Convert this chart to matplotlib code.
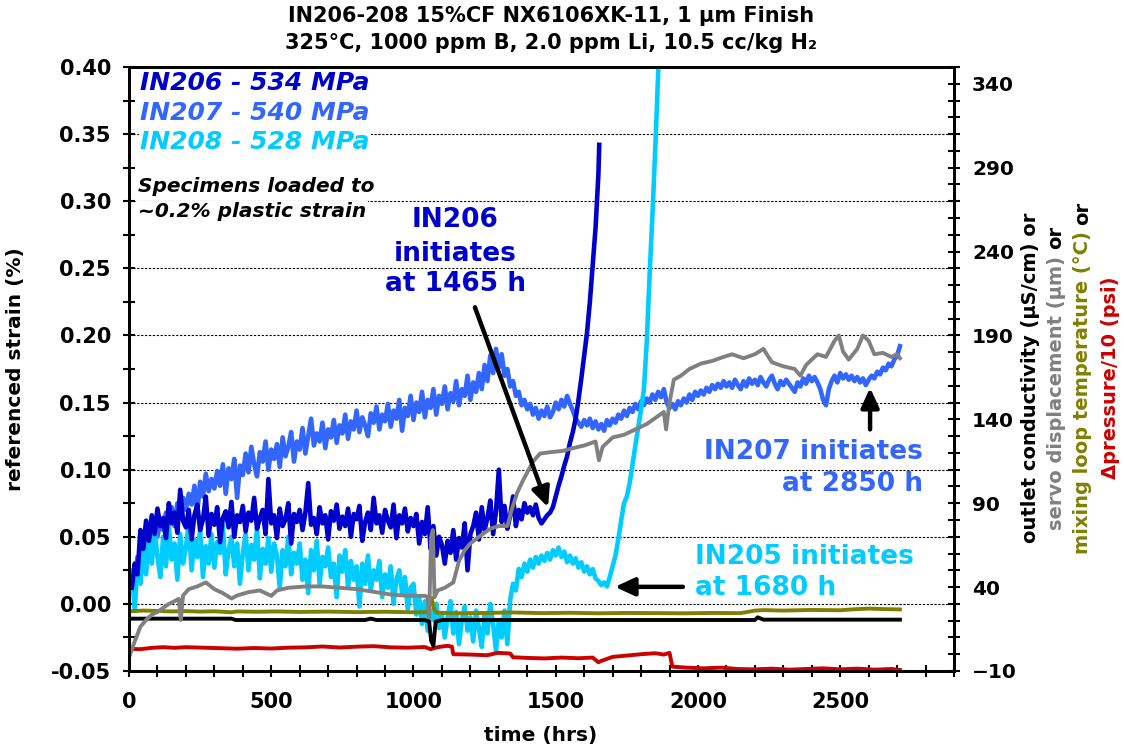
import numpy as np
import matplotlib
matplotlib.use("Agg")
import matplotlib.pyplot as plt
from matplotlib.ticker import MultipleLocator
from matplotlib.transforms import IdentityTransform

plt.rcParams["font.family"] = ["DejaVu Sans"]
plt.rcParams["font.weight"] = "bold"

# ---------------------------------------------------------------- data
DT = 10  # strain logging interval (h)

# IN206 referenced strain (%), logged every 10 h from t = 10 h
in206_t0 = 10
in206_strain = [
    0.012, 0.030, 0.022, 0.055, 0.041, 0.062, 0.047, 0.066, 0.052, 0.071,
    0.058, 0.064, 0.049, 0.075, 0.060, 0.068, 0.053, 0.085, 0.062, 0.057,
    0.070, 0.048, 0.066, 0.074, 0.055, 0.063, 0.080, 0.051, 0.067, 0.059,
    0.072, 0.046, 0.064, 0.069, 0.057, 0.076, 0.050, 0.066, 0.061, 0.073,
    0.054, 0.068, 0.062, 0.079, 0.056, 0.064, 0.070, 0.052, 0.093, 0.060,
    0.066, 0.049, 0.071, 0.058, 0.063, 0.075, 0.045, 0.067, 0.061, 0.070,
    0.055, 0.068, 0.090, 0.059, 0.064, 0.052, 0.072, 0.060, 0.066, 0.048,
    0.069, 0.062, 0.074, 0.056, 0.065, 0.058, 0.071, 0.050, 0.067, 0.063,
    0.073, 0.047, 0.061, 0.068, 0.055, 0.079, 0.060, 0.066, 0.053, 0.070,
    0.062, 0.057, 0.074, 0.049, 0.066, 0.060, 0.071, 0.054, 0.064, 0.058,
    0.067, 0.045, 0.061, 0.052, 0.072, 0.041, 0.058, 0.036, 0.050, 0.044,
    0.030, 0.047, 0.038, 0.055, 0.033, 0.049, 0.042, 0.060, 0.025, 0.052,
    0.058, 0.068, 0.048, 0.072, 0.055, 0.064, 0.077, 0.052, 0.069, 0.100,
    0.061, 0.073, 0.056, 0.066, 0.080, 0.058, 0.070, 0.063, 0.075, 0.068,
    0.072, 0.066, 0.074, 0.064, 0.060, 0.063, 0.066,
]
# IN206 crack growth after initiation
in206_rise_t = [1480, 1490, 1500, 1510, 1520, 1530, 1540, 1550, 1560, 1570,
                1580, 1590, 1600, 1610, 1620, 1630, 1640, 1645, 1650, 1653]
in206_rise = [0.068, 0.072, 0.080, 0.088, 0.095, 0.103, 0.110, 0.120, 0.128, 0.138,
              0.152, 0.168, 0.185, 0.202, 0.225, 0.252, 0.280, 0.300, 0.320, 0.342]

# IN207 referenced strain (%), every 10 h from t = 20 h
in207_t0 = 20
in207_strain = [
    0.020, 0.035, 0.028, 0.045, 0.038, 0.052, 0.044, 0.058, 0.050,
    0.062, 0.055, 0.068, 0.060, 0.072, 0.058, 0.075, 0.066, 0.079, 0.070,
    0.082, 0.074, 0.088, 0.068, 0.091, 0.080, 0.097, 0.084, 0.093, 0.086,
    0.099, 0.088, 0.104, 0.082, 0.101, 0.093, 0.108, 0.079, 0.103, 0.096,
    0.112, 0.098, 0.117, 0.104, 0.095, 0.113, 0.106, 0.121, 0.100, 0.115,
    0.108, 0.119, 0.102, 0.124, 0.110, 0.117, 0.128, 0.106, 0.121, 0.115,
    0.131, 0.112, 0.125, 0.138, 0.118, 0.127, 0.121, 0.135, 0.116, 0.130,
    0.124, 0.137, 0.120, 0.133, 0.127, 0.141, 0.123, 0.136, 0.130, 0.144,
    0.128, 0.139, 0.133, 0.125, 0.142, 0.135, 0.147, 0.130, 0.141, 0.136,
    0.149, 0.132, 0.144, 0.138, 0.152, 0.129, 0.146, 0.140, 0.155, 0.137,
    0.150, 0.143, 0.158, 0.139, 0.152, 0.146, 0.160, 0.141, 0.155, 0.149,
    0.162, 0.145, 0.157, 0.151, 0.166, 0.148, 0.160, 0.155, 0.170, 0.152,
    0.165, 0.158, 0.172, 0.160, 0.178, 0.166, 0.185, 0.172, 0.190, 0.176,
    0.186, 0.170, 0.175, 0.162, 0.166, 0.155, 0.158, 0.148, 0.152, 0.145,
    0.149, 0.141, 0.146, 0.138, 0.144, 0.140, 0.147, 0.139, 0.143, 0.150,
    0.145, 0.152, 0.147, 0.155, 0.149, 0.144, 0.138, 0.135, 0.132, 0.137,
    0.133, 0.138, 0.131, 0.136, 0.130, 0.134, 0.129, 0.137, 0.133, 0.138,
    0.135, 0.141, 0.138, 0.144, 0.140, 0.146, 0.143, 0.149, 0.145, 0.151,
    0.148, 0.153, 0.150, 0.156, 0.152, 0.158, 0.154, 0.160, 0.150, 0.146,
    0.149, 0.145, 0.151, 0.148, 0.153, 0.150, 0.156, 0.152, 0.158, 0.155,
    0.159, 0.156, 0.161, 0.158, 0.163, 0.160, 0.164, 0.161, 0.166, 0.162,
    0.165, 0.161, 0.167, 0.163, 0.160, 0.166, 0.162, 0.168, 0.164, 0.167,
    0.163, 0.169, 0.165, 0.162, 0.167, 0.170, 0.164, 0.160, 0.166, 0.163,
    0.167, 0.164, 0.161, 0.158, 0.165, 0.162, 0.168, 0.164, 0.170, 0.166,
    0.169, 0.165, 0.160, 0.152, 0.148, 0.160, 0.166, 0.170, 0.165, 0.172,
    0.168, 0.171, 0.167, 0.170, 0.166, 0.169, 0.165, 0.168, 0.163, 0.167,
    0.170, 0.168, 0.173, 0.171, 0.176, 0.174, 0.179, 0.177, 0.182, 0.185,
    0.192,
]

# IN208 referenced strain (%), every 10 h from t = 0 h
in208_t0 = 0
in208_strain = [
    0.010, 0.025, -0.005, 0.030, 0.015, 0.040, 0.022, 0.048, 0.030, 0.055,
    0.035, 0.020, 0.050, 0.028, 0.058, 0.033, 0.045, 0.018, 0.052, 0.030,
    0.042, 0.060, 0.025, 0.048, 0.035, 0.055, 0.020, 0.043, 0.030, 0.052,
    0.027, 0.046, 0.038, 0.058, 0.022, 0.040, 0.050, 0.028, 0.045, 0.015,
    0.038, 0.052, 0.025, 0.044, 0.033, 0.056, 0.019, 0.041, 0.030, 0.049,
    0.024, 0.045, 0.036, 0.012, 0.040, 0.028, 0.050, 0.022, 0.038, 0.030,
    0.045, 0.018, 0.033, 0.008, 0.040, 0.025, 0.047, 0.015, 0.035, 0.028,
    0.042, 0.020, 0.030, 0.005, 0.036, 0.024, 0.040, 0.012, 0.032, 0.018,
    0.028, -0.002, 0.030, 0.015, 0.036, 0.010, 0.025, 0.018, 0.032, 0.005,
    0.022, 0.012, 0.028, 0.000, 0.018, 0.025, 0.008, 0.020, -0.004, 0.012,
    0.015, -0.008, 0.005, -0.015, 0.002, -0.020, -0.005, -0.012, 0.000, -0.018,
    -0.008, -0.025, -0.010, 0.002, -0.022, -0.006, -0.030, -0.012, -0.002, -0.020,
    -0.010, -0.028, -0.005, -0.018, -0.032, -0.008, -0.022, 0.000, -0.015, -0.035,
    -0.012, -0.025, -0.005, -0.030,
    0.003, 0.015, 0.010, 0.026, 0.020, 0.030, 0.024, 0.033, 0.027, 0.035,
    0.030, 0.036, 0.032, 0.038, 0.033, 0.040, 0.036, 0.042, 0.035, 0.039,
    0.031, 0.036, 0.030, 0.034, 0.027, 0.031, 0.024, 0.028, 0.022, 0.026,
    0.019, 0.017, 0.014, 0.016, 0.013, 0.020, 0.028, 0.036, 0.048, 0.062,
    0.075, 0.080, 0.090,
]
# IN208 crack growth after initiation
in208_rise_t = [1780, 1800, 1810, 1820, 1830, 1840, 1850, 1860, 1870]
in208_rise = [0.118, 0.145, 0.160, 0.195, 0.245, 0.290, 0.340, 0.395, 0.460]

# servo displacement (um)
servo_t = [0, 20, 40, 60, 80, 100, 120, 140, 160, 175, 182, 190, 210, 240, 270,
           300, 330, 360, 380, 420, 460, 500, 520, 560, 620, 680, 740, 800, 860,
           920, 980, 1040, 1050, 1055, 1062, 1068, 1074, 1085, 1110, 1140, 1160,
           1180, 1200, 1230, 1270, 1300, 1330, 1345, 1365, 1385, 1400, 1420, 1445,
           1480, 1525, 1560, 1600, 1640, 1652, 1665, 1700, 1740, 1780, 1820, 1860,
           1880, 1888, 1900, 1915, 1940, 1970, 2010, 2050, 2090, 2120, 2160, 2200,
           2230, 2260, 2300, 2340, 2360, 2380, 2420, 2450, 2480, 2495, 2510, 2530,
           2560, 2580, 2600, 2620, 2650, 2680, 2700, 2710]
servo_um = [-2.0, 7.6, 16.4, 20.4, 23.6, 25.2, 27.6, 30.0, 31.6, 33.0, 20.4, 35.0,
            38.8, 40.4, 42.8, 38.8, 36.4, 33.2, 35.0, 37.0, 38.0, 34.8, 38.0, 39.6,
            40.4, 40.4, 39.6, 38.8, 37.2, 35.6, 34.8, 34.8, 34.0, 22.0, 70.0, 74.0,
            34.0, 38.0, 39.6, 42.8, 55.6, 62.0, 66.0, 70.0, 74.8, 76.4, 76.4, 86.0,
            96.4, 103.6, 108.4, 114.8, 119.6, 120.4, 121.2, 122.8, 124.4, 126.8,
            115.6, 123.6, 129.2, 130.8, 134.0, 137.2, 142.0, 144.4, 134.0, 150.0,
            163.6, 166.0, 170.0, 173.2, 174.8, 177.2, 178.8, 176.4, 178.8, 182.0,
            174.0, 171.6, 170.0, 166.0, 172.4, 178.8, 177.2, 186.8, 190.0, 180.4,
            175.6, 182.0, 190.0, 186.8, 178.8, 179.6, 177.2, 178.8, 176.4]

# mixing loop temperature (degC)
temp_t = [0, 50, 100, 150, 200, 250, 300, 360, 380, 450, 520, 600, 700, 800, 900,
          1000, 1050, 1058, 1064, 1072, 1080, 1150, 1250, 1350, 1450, 1550, 1650,
          1750, 1850, 1950, 2050, 2150, 2200, 2230, 2300, 2400, 2500, 2550, 2600,
          2650, 2710]
temp_c = [25.6, 26.0, 25.8, 25.5, 25.7, 25.4, 25.6, 25.0, 25.5, 25.3, 25.5, 25.2,
          25.4, 25.1, 25.3, 25.0, 25.0, 30.5, 33.5, 27.0, 24.8, 24.4, 24.6, 24.9,
          24.5, 24.7, 24.4, 24.6, 24.5, 24.4, 24.6, 24.5, 26.0, 26.3, 26.0, 26.4,
          26.2, 26.8, 27.2, 26.9, 26.7]

# outlet conductivity (uS/cm)
cond_t = [0, 360, 375, 830, 850, 870, 1040, 1055, 1062, 1070, 1078, 1100, 2200,
          2210, 2230, 2710]
cond_us = [21.2, 21.2, 20.4, 20.4, 21.2, 20.4, 20.4, 19.5, 8.0, 5.0, 19.5, 20.4,
           20.4, 22.0, 20.6, 20.6]

# delta pressure / 10 (psi)
dp_t = [0, 40, 80, 120, 160, 200, 260, 320, 380, 440, 500, 560, 620, 680, 740,
        800, 860, 920, 980, 1040, 1060, 1080, 1100, 1120, 1135, 1140, 1200, 1260,
        1290, 1300, 1340, 1350, 1400, 1460, 1520, 1580, 1630, 1650, 1660, 1700,
        1750, 1800, 1850, 1880, 1900, 1910, 1960, 2020, 2080, 2140, 2200, 2260,
        2320, 2380, 2440, 2500, 2560, 2620, 2680, 2710]
dp_psi10 = [3.2, 3.0, 3.8, 4.2, 3.8, 4.2, 3.9, 3.6, 3.3, 3.7, 3.4, 3.9, 4.1, 4.6,
            4.0, 4.5, 4.8, 4.1, 3.9, 4.3, 3.0, 4.0, 4.6, 5.0, 4.5, 0.0, -0.2, -0.6,
            0.6, 0.8, 0.4, -1.8, -2.2, -2.5, -2.0, -2.4, -2.0, -4.8, -4.0, -1.6,
            -0.8, 0.0, 0.6, -0.2, 0.8, -7.4, -8.0, -8.4, -8.0, -8.8, -9.0, -8.6,
            -9.2, -8.8, -8.4, -9.0, -8.6, -9.2, -8.8, -9.4]

C206, C207, C208 = "#0000CC", "#3366FF", "#00CCFF"
C_SERVO, C_TEMP, C_COND, C_DP = "#808080", "#808000", "#000000", "#CC0000"

# ---------------------------------------------------------------- figure
W, H = 1124, 750
fig = plt.figure(figsize=(W / 100, H / 100), dpi=100)
L, R, T, B = 129, 954, 67, 671
ax = fig.add_axes([L / W, 1 - B / H, (R - L) / W, (B - T) / H])
ax2 = ax.twinx()

lw_strain = 3.3
lw = 2.8
t206 = in206_t0 + DT * np.arange(len(in206_strain))
t207 = in207_t0 + DT * np.arange(len(in207_strain))
t208 = in208_t0 + DT * np.arange(len(in208_strain))
ax.plot(t207, in207_strain, color=C207, lw=lw_strain, zorder=2)
ax.plot(np.r_[t208, in208_rise_t], np.r_[in208_strain, in208_rise],
        color=C208, lw=lw_strain, zorder=3)
ax.plot(np.r_[t206, in206_rise_t], np.r_[in206_strain, in206_rise],
        color=C206, lw=lw_strain, zorder=4)

ax2.plot(dp_t, dp_psi10, color=C_DP, lw=lw)
ax2.plot(cond_t, cond_us, color=C_COND, lw=lw)
ax2.plot(temp_t, temp_c, color=C_TEMP, lw=lw)
ax2.plot(servo_t, servo_um, color=C_SERVO, lw=lw)

ax.set_xlim(0, 2900)
ax.set_ylim(-0.05, 0.40)
ax2.set_ylim(-10, 350)

ax.xaxis.set_major_locator(MultipleLocator(500))
ax.xaxis.set_minor_locator(MultipleLocator(100))
ax.yaxis.set_major_locator(MultipleLocator(0.05))
ax.yaxis.set_minor_locator(MultipleLocator(0.025))
ax.yaxis.set_major_formatter(plt.FuncFormatter(lambda v, p: f"{v:.2f}"))
ax2.set_yticks(np.arange(-10, 341, 50))
ax2.yaxis.set_minor_locator(MultipleLocator(10))

ax.yaxis.grid(True, which="major", color="black", lw=0.8, linestyle=(0, (2, 1.5)))
ax.set_axisbelow(True)

for a in (ax, ax2):
    for s in a.spines.values():
        s.set_linewidth(2)
ax.tick_params(axis="y", which="both", direction="inout", length=8, width=1.5,
               labelsize=15, pad=9)
ax.tick_params(axis="x", which="both", direction="inout", length=8, width=1.5,
               labelsize=15, pad=11, top=False)
ax2.tick_params(axis="y", which="both", direction="inout", length=8, width=1.5,
                labelsize=14.5, pad=9)
for lab in ax.get_xticklabels() + ax.get_yticklabels() + ax2.get_yticklabels():
    lab.set_fontweight("bold")

# ---------------------------------------------------------------- titles / labels
fig.text(551 / W, 1 - 16 / H, "IN206-208 15%CF NX6106XK-11, 1 \u00b5m Finish",
         ha="center", va="center", fontsize=15, fontweight="bold")
fig.text(551 / W, 1 - 43 / H, "325\u00b0C, 1000 ppm B, 2.0 ppm Li, 10.5 cc/kg H\u2082",
         ha="center", va="center", fontsize=15, fontweight="bold")
fig.text(16 / W, 1 - 369 / H, "referenced strain (%)", rotation=90,
         ha="center", va="center", fontsize=14.5, fontweight="bold")
fig.text(541 / W, 1 - 735 / H, "time (hrs)", ha="center", va="center",
         fontsize=14.5, fontweight="bold")

# right-hand axis label: four stacked columns, partly coloured
renderer = fig.canvas.get_renderer()
right_cols = [
    (1030, [("outlet conductivity (\u00b5S/cm) or", C_COND)]),
    (1056, [("servo displacement (\u00b5m)", C_SERVO), ("or", C_COND)]),
    (1083, [("mixing loop temperature (\u00b0C)", C_TEMP), ("or", C_COND)]),
    (1110, [("\u0394pressure/10 (psi)", C_DP)]),
]
yc_px = H - 378
for xc, parts in right_cols:
    full = " ".join(p for p, _ in parts)
    probe = fig.text(0, 0, full, rotation=90, fontsize=14, fontweight="bold",
                     transform=IdentityTransform())
    length = probe.get_window_extent(renderer).height
    probe.remove()
    y0 = yc_px - length / 2
    fig.text(xc, y0, parts[0][0], rotation=90, rotation_mode="anchor",
             ha="left", va="center", fontsize=14, fontweight="bold",
             color=parts[0][1], transform=IdentityTransform())
    if len(parts) > 1:
        fig.text(xc, y0 + length, parts[1][0], rotation=90, rotation_mode="anchor",
                 ha="right", va="center", fontsize=14, fontweight="bold",
                 color=parts[1][1], transform=IdentityTransform())

# ---------------------------------------------------------------- annotations
wbox = dict(facecolor="white", edgecolor="none", pad=1)
for y, s, c in [(0.388, "IN206 - 534 MPa", C206),
                (0.366, "IN207 - 540 MPa", C207),
                (0.344, "IN208 - 528 MPa", C208)]:
    ax2.text(39, y, s, transform=ax.transData, ha="left", va="center",
             fontsize=18, fontweight="bold", style="italic", color=c, bbox=wbox)

for y, s in [(0.311, "Specimens loaded to"), (0.292, "~0.2% plastic strain")]:
    ax2.text(33, y, s, transform=ax.transData, ha="left", va="center",
             fontsize=14.5, fontweight="bold", style="italic", color="black", bbox=wbox)

for y, s in [(0.286, "IN206"), (0.261, "initiates"), (0.238, "at 1465 h")]:
    ax2.text(1146, y, s, transform=ax.transData, ha="center", va="center",
             fontsize=19, fontweight="bold", color=C206, bbox=wbox)

for y, s in [(0.113, "IN207 initiates"), (0.089, "at 2850 h")]:
    ax2.text(2791, y, s, transform=ax.transData, ha="right", va="center",
             fontsize=19, fontweight="bold", color=C207)

for y, s in [(0.035, "IN205 initiates"), (0.012, "at 1680 h")]:
    ax2.text(1990, y, s, transform=ax.transData, ha="left", va="center",
             fontsize=19, fontweight="bold", color=C208)

arrow = dict(arrowstyle="-|>,head_length=0.65,head_width=0.3", lw=3.2,
             color="black", shrinkA=0, shrinkB=0, mutation_scale=18)
ax2.annotate("", xy=(1473, 0.072), xytext=(1216, 0.221),
             xycoords=ax.transData, textcoords=ax.transData, arrowprops=arrow)
ax2.annotate("", xy=(2605, 0.161), xytext=(2605, 0.130),
             xycoords=ax.transData, textcoords=ax.transData, arrowprops=arrow)
ax2.annotate("", xy=(1708, 0.0127), xytext=(1947, 0.0127),
             xycoords=ax.transData, textcoords=ax.transData, arrowprops=arrow)

fig.savefig("out.png", dpi=100)
